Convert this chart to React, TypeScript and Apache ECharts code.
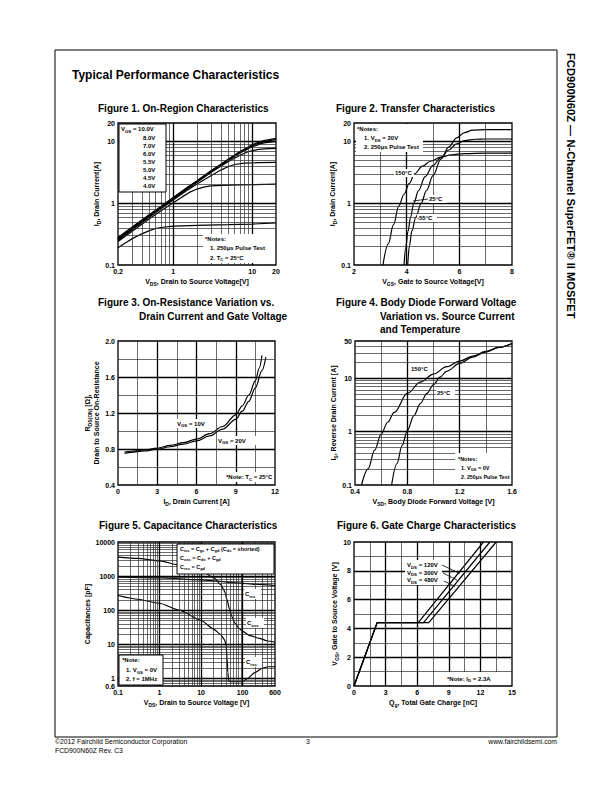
import React, { useEffect, useRef } from 'react';
import * as echarts from 'echarts';

const FONT = '"Liberation Sans", Arial, Helvetica, sans-serif';

// ---------- Figure 1: On-Region Characteristics (ID vs VDS) ----------
const f1Vgs10 = [[0.2,0.28],[0.3,0.41],[0.5,0.66],[0.7,0.89],[1,1.24],[1.5,1.8],[2,2.32],[3,3.35],[4,4.3],[5,5.2],[7,6.9],[10,8.9],[14,10.4],[20,11.3]];
const f1Vgs8 = [[0.2,0.272],[0.3,0.4],[0.5,0.645],[0.7,0.875],[1,1.22],[1.5,1.77],[2,2.28],[3,3.3],[4,4.22],[5,5.1],[7,6.75],[10,8.6],[14,10.0],[20,10.9]];
const f1Vgs7 = [[0.2,0.265],[0.3,0.39],[0.5,0.635],[0.7,0.865],[1,1.2],[1.5,1.74],[2,2.24],[3,3.24],[4,4.14],[5,5.0],[7,6.55],[10,8.3],[14,9.5],[20,10.1]];
const f1Vgs6 = [[0.2,0.26],[0.3,0.385],[0.5,0.625],[0.7,0.85],[1,1.18],[1.5,1.71],[2,2.2],[3,3.15],[4,4.0],[5,4.75],[7,6.0],[9,6.9],[12,7.5],[16,7.7],[20,7.8]];
const f1Vgs55 = [[0.2,0.25],[0.3,0.37],[0.5,0.6],[0.7,0.815],[1,1.13],[1.5,1.62],[2,2.05],[3,2.8],[4,3.45],[5,3.95],[6,4.25],[8,4.48],[12,4.55],[20,4.6]];
const f1Vgs5 = [[0.2,0.24],[0.3,0.35],[0.5,0.56],[0.7,0.76],[1,1.02],[1.3,1.27],[1.6,1.5],[2,1.7],[2.5,1.84],[3,1.91],[5,1.97],[10,2.0],[20,2.05]];
const f1Vgs45 = [[0.2,0.19],[0.25,0.23],[0.3,0.265],[0.4,0.32],[0.5,0.36],[0.6,0.39],[0.7,0.405],[1,0.425],[2,0.44],[5,0.45],[10,0.46],[20,0.48]];
const f1Legend = ['8.0V','7.0V','6.0V','5.5V','5.0V','4.5V','4.0V'];

// ---------- Figure 2: Transfer Characteristics (ID vs VGS) ----------
const f2T150 = [[3.1,0.1],[3.3,0.22],[3.5,0.45],[3.7,0.9],[3.9,1.4],[4.1,2.1],[4.3,3.0],[4.6,4.0],[4.9,4.8],[5.3,5.6],[5.7,6.1],[6.2,6.4],[7,6.5],[8,6.5]];
const f2T25 = [[3.9,0.1],[3.97,0.2],[4.05,0.35],[4.15,0.6],[4.27,1.0],[4.45,1.6],[4.7,2.7],[5.0,4.1],[5.3,5.5],[5.6,7.3],[5.9,9.2],[6.2,10.4],[6.6,10.9],[7,11],[8,11]];
const f2Tm55 = [[4.04,0.1],[4.1,0.2],[4.2,0.36],[4.35,0.6],[4.55,1.0],[4.75,1.6],[5.0,2.8],[5.3,5.2],[5.6,8.2],[5.9,11.5],[6.2,14],[6.5,15.3],[7,15.6],[8,15.6]];

// ---------- Figure 3: On-Resistance vs Drain Current ----------
const f3Vgs10 = [[0.5,0.765],[1,0.775],[2,0.79],[3,0.81],[4,0.84],[5,0.87],[6,0.91],[7,0.97],[8,1.05],[9,1.18],[9.5,1.28],[10,1.4],[10.5,1.56],[10.8,1.7],[11.0,1.84]];
const f3Vgs20 = [[0.5,0.75],[1,0.762],[2,0.778],[3,0.798],[4,0.825],[5,0.855],[6,0.89],[7,0.945],[8,1.02],[9,1.13],[9.5,1.22],[10,1.33],[10.5,1.48],[11,1.67],[11.3,1.82]];

// ---------- Figure 4: Body Diode Forward Voltage ----------
const f4T150 = [[0.45,0.1],[0.5,0.2],[0.55,0.45],[0.6,0.9],[0.65,1.5],[0.7,2.3],[0.8,5.2],[0.9,8.5],[1.0,12],[1.1,16.5],[1.2,21],[1.3,26],[1.4,32],[1.5,38],[1.6,45]];
const f4T25 = [[0.68,0.1],[0.72,0.25],[0.76,0.55],[0.8,1.05],[0.85,2.0],[0.9,3.4],[0.95,5.2],[1.0,7.6],[1.05,10.5],[1.1,13.5],[1.2,19],[1.3,25],[1.4,31],[1.5,38],[1.6,45]];

// ---------- Figure 5: Capacitance Characteristics ----------
const f5Ciss = [[0.1,950],[1,880],[10,780],[30,700],[50,650],[100,610],[300,560],[600,530]];
const f5Coss = [[0.1,3600],[0.3,3300],[1,2800],[3,2100],[10,1450],[20,900],[30,560],[35,400],[38,320],[42,200],[48,110],[55,65],[65,42],[80,30],[100,24],[150,18],[250,15],[400,12.5],[600,11.5]];
const f5Crss = [[0.1,270],[0.3,210],[1,160],[3,100],[10,50],[20,28],[30,19],[36,14],[40,10],[42,4],[44,1.5],[46,0.85],[50,0.8],[70,0.8],[100,0.8],[130,1.0],[200,1.5],[300,2.0],[400,2.2],[600,2.2]];

// ---------- Figure 6: Gate Charge Characteristics ----------
const f6Vds120 = [[0,0],[2.2,4.4],[6.1,4.4],[12.3,10]];
const f6Vds300 = [[0,0],[2.2,4.4],[6.6,4.4],[12.9,10]];
const f6Vds480 = [[0,0],[2.2,4.4],[7.1,4.4],[13.5,10]];

// ---------- grid-line value helpers ----------
function logLines(lo: number, hi: number) {
  const minor: number[] = [];
  const major: number[] = [];
  for (let e = -3; e <= 5; e++) {
    for (let m = 1; m <= 9; m++) {
      const v = +(m * Math.pow(10, e)).toPrecision(6);
      if (v <= lo * 1.0001 || v >= hi * 0.9999) continue;
      (m === 1 ? major : minor).push(v);
    }
  }
  return { minor, major };
}
function linLines(lo: number, hi: number, step: number, majorEvery: number) {
  const minor: number[] = [];
  const major: number[] = [];
  const n = Math.round((hi - lo) / step);
  for (let i = 1; i < n; i++) {
    const v = +(lo + i * step).toFixed(6);
    (i % majorEvery === 0 ? major : minor).push(v);
  }
  return { minor, major };
}

const THIN = { color: '#2b2b2b', width: 0.7, type: 'solid' };
const THICK = { color: '#000', width: 1.3, type: 'solid' };

function gridMarks(xl: { minor: number[]; major: number[] }, yl: { minor: number[]; major: number[] }) {
  return {
    silent: true,
    symbol: ['none', 'none'],
    label: { show: false },
    data: [
      ...xl.minor.map((v) => ({ xAxis: v, lineStyle: THIN })),
      ...yl.minor.map((v) => ({ yAxis: v, lineStyle: THIN })),
      ...xl.major.map((v) => ({ xAxis: v, lineStyle: THICK })),
      ...yl.major.map((v) => ({ yAxis: v, lineStyle: THICK })),
    ],
  };
}

const RICH7 = {
  b: { fontSize: 7, fontWeight: 'bold', fontFamily: FONT, color: '#000', fill: '#000', lineHeight: 9 },
  s: { fontSize: 5, fontWeight: 'bold', fontFamily: FONT, color: '#000', fill: '#000', lineHeight: 9, verticalAlign: 'bottom' },
};
function richFor(size: number) {
  return {
    b: { fontSize: size, fontWeight: 'bold', fontFamily: FONT, color: '#000', fill: '#000', lineHeight: size + 2 },
    s: { fontSize: size * 0.72, fontWeight: 'bold', fontFamily: FONT, color: '#000', fill: '#000', lineHeight: size + 2, verticalAlign: 'bottom' },
  };
}

function T(x: number, y: number, text: string, size = 6.5, extra: any = {}) {
  return {
    type: 'text', x, y, z: 102, silent: true,
    style: {
      text, fill: '#000', font: `bold ${size}px ${FONT}`, rich: richFor(size),
      align: 'left', verticalAlign: 'middle', textAlign: 'left', textVerticalAlign: 'middle', ...extra,
    },
  };
}
function P(x: number, y: number, text: string, size: number, align = 'left') {
  return {
    type: 'text', x, y, z: 102, silent: true,
    style: { text, fill: '#000', font: `${size}px ${FONT}`, align, verticalAlign: 'middle', textAlign: align, textVerticalAlign: 'middle' },
  };
}
function R(x: number, y: number, w: number, h: number, border = false) {
  return {
    type: 'rect', z: 100, silent: true,
    shape: { x, y, width: w, height: h },
    style: { fill: '#fff', stroke: border ? '#000' : null, lineWidth: border ? 1 : 0 },
  };
}
function L(x1: number, y1: number, x2: number, y2: number, w = 0.8) {
  return { type: 'line', z: 101, silent: true, shape: { x1, y1, x2, y2 }, style: { stroke: '#000', lineWidth: w } };
}

const GRIDS = [
  { left: 118, top: 123, width: 158, height: 142 },
  { left: 354, top: 123, width: 158, height: 142 },
  { left: 118, top: 341, width: 157, height: 144 },
  { left: 355, top: 341, width: 157, height: 144 },
  { left: 118, top: 542, width: 157, height: 144 },
  { left: 354, top: 542, width: 158, height: 144 },
];

const logFmt = (v: number) => String(+(+v).toPrecision(4));

function axisBase(gridIndex: number, name: string, nameGap: number) {
  return {
    gridIndex,
    name,
    nameLocation: 'middle',
    nameGap,
    nameTextStyle: { rich: RICH7, fontSize: 7, fontWeight: 'bold', fontFamily: FONT, color: '#000' },
    axisLine: { show: false },
    axisTick: { show: false },
    splitLine: { show: false },
    axisLabel: { color: '#000', fontSize: 7, fontWeight: 'bold', fontFamily: FONT, margin: 3, showMinLabel: true, showMaxLabel: true },
  };
}
function logAxis(gi: number, min: number, max: number, name: string, gap: number) {
  const a: any = axisBase(gi, name, gap);
  a.type = 'log'; a.logBase = 10; a.min = min; a.max = max;
  a.axisLabel = { ...a.axisLabel, formatter: logFmt };
  return a;
}
function valAxis(gi: number, min: number, max: number, interval: number, name: string, gap: number, dec = 0) {
  const a: any = axisBase(gi, name, gap);
  a.type = 'value'; a.min = min; a.max = max; a.interval = interval;
  a.axisLabel = { ...a.axisLabel, formatter: (v: number) => (+v).toFixed(dec) };
  return a;
}

function curve(i: number, data: number[][], smooth: boolean | number = 0.35, width = 1.2) {
  return {
    type: 'line', xAxisIndex: i, yAxisIndex: i, data, showSymbol: false, symbol: 'none',
    smooth, smoothMonotone: 'x', silent: true, z: 3,
    lineStyle: { color: '#000', width },
  };
}
function gridSeries(i: number, x0: number, y0: number, xl: any, yl: any) {
  return {
    type: 'line', xAxisIndex: i, yAxisIndex: i, data: [[x0, y0]], showSymbol: false, symbol: 'none',
    silent: true, z: 1, lineStyle: { opacity: 0 }, markLine: gridMarks(xl, yl),
  };
}

export default function App() {
  const ref = useRef<HTMLDivElement>(null);
  useEffect(() => {
    if (!ref.current) return;
    const chart = echarts.init(ref.current, null, { renderer: 'svg' });

    const xAxis = [
      logAxis(0, 0.2, 20, '{b|V}{s|DS}{b|, Drain to Source Voltage[V]}', 12),
      valAxis(1, 2, 8, 2, '{b|V}{s|GS}{b|, Gate to Source Voltage[V]}', 12),
      valAxis(2, 0, 12, 3, '{b|I}{s|D}{b|, Drain Current [A]}', 12),
      valAxis(3, 0.4, 1.6, 0.4, '{b|V}{s|SD}{b|, Body Diode Forward Voltage [V]}', 12, 1),
      logAxis(4, 0.1, 600, '{b|V}{s|DS}{b|, Drain to Source Voltage [V]}', 12),
      valAxis(5, 0, 15, 3, '{b|Q}{s|g}{b|, Total Gate Charge [nC]}', 12),
    ];
    const yAxis = [
      logAxis(0, 0.1, 20, '{b|I}{s|D}{b|, Drain Current[A]}', 15),
      logAxis(1, 0.1, 20, '{b|I}{s|D}{b|, Drain Current[A]}', 15),
      valAxis(2, 0.4, 2.0, 0.4, '{b|R}{s|DS(ON)}{b| [Ω],}\n{b|Drain to Source On-Resistance}', 17, 1),
      logAxis(3, 0.1, 50, '{b|I}{s|S}{b|, Reverse Drain Current [A]}', 16),
      logAxis(4, 0.6, 10000, '{b|Capacitances [pF]}', 26),
      valAxis(5, 0, 10, 2, '{b|V}{s|GS}{b|, Gate to Source Voltage [V]}', 13),
    ];

    const series = [
      gridSeries(0, 0.2, 0.1, logLines(0.2, 20), logLines(0.1, 20)),
      curve(0, f1Vgs10, false, 1.3), curve(0, f1Vgs8, false, 1.3), curve(0, f1Vgs7, false, 1.3), curve(0, f1Vgs6, false, 1.3),
      curve(0, f1Vgs55, false, 1.2), curve(0, f1Vgs5, false, 1.2), curve(0, f1Vgs45, false, 1.2),

      gridSeries(1, 2, 0.1, linLines(2, 8, 1, 2), logLines(0.1, 20)),
      curve(1, f2T150), curve(1, f2T25), curve(1, f2Tm55),

      gridSeries(2, 0, 0.4, linLines(0, 12, 1.5, 2), linLines(0.4, 2.0, 0.2, 2)),
      curve(2, f3Vgs10), curve(2, f3Vgs20),

      gridSeries(3, 0.4, 0.1, linLines(0.4, 1.6, 0.2, 2), logLines(0.1, 50)),
      curve(3, f4T150), curve(3, f4T25),

      gridSeries(4, 0.1, 0.6, logLines(0.1, 600), logLines(0.6, 10000)),
      curve(4, f5Ciss), curve(4, f5Coss, 0.25), curve(4, f5Crss, 0.2),

      gridSeries(5, 0, 0, linLines(0, 15, 1.5, 2), linLines(0, 10, 1, 2)),
      curve(5, f6Vds120, false), curve(5, f6Vds300, false), curve(5, f6Vds480, false),
    ];

    const graphic: any[] = [
      // page frame
      { type: 'rect', z: 90, silent: true, shape: { x: 55, y: 50, width: 502, height: 687 }, style: { fill: null, stroke: '#000', lineWidth: 1 } },
      T(72, 75, 'Typical Performance Characteristics', 12),
      // side title
      { type: 'text', x: 571, y: 53, rotation: -Math.PI / 2, z: 102, silent: true,
        style: { text: 'FCD900N60Z — N-Channel SuperFET® II MOSFET', fill: '#000', font: `bold 11.2px ${FONT}`, align: 'left', verticalAlign: 'middle', textAlign: 'left', textVerticalAlign: 'middle' } },
      // figure titles
      T(98, 108, 'Figure 1. On-Region Characteristics', 10),
      T(336, 108, 'Figure 2. Transfer Characteristics', 10),
      T(98, 302, 'Figure 3. On-Resistance Variation vs.', 10),
      T(139, 316, 'Drain Current and Gate Voltage', 10),
      T(336, 302, 'Figure 4. Body Diode Forward Voltage', 10),
      T(380, 316, 'Variation vs. Source Current', 10),
      T(380, 329, 'and Temperature', 10),
      T(99, 525, 'Figure 5. Capacitance Characteristics', 10),
      T(337, 525, 'Figure 6. Gate Charge Characteristics', 10),

      // fig1 legend box
      R(119, 124, 47, 68, true),
      T(121, 129, '{b|V}{s|GS}{b| = 10.0V}', 6),
      ...f1Legend.map((s, k) => T(143, 137.7 + k * 8.1, s, 6)),
      // fig1 notes
      R(203, 234, 72, 29),
      T(205, 239, '*Notes:', 6),
      T(210, 248, '1. 250μs Pulse Test', 6),
      T(210, 257.5, '{b|2. T}{s|C}{b| = 25°C}', 6),

      // fig2 notes & labels
      R(356, 124, 67, 28),
      T(357, 129, '*Notes:', 6),
      T(364, 138, '{b|1. V}{s|DS}{b| = 20V}', 6),
      T(364, 147, '2. 250μs Pulse Test', 6),
      R(394, 169, 20, 8),
      T(395, 173, '150°C', 6),
      L(413, 201, 428, 199),
      R(429, 195, 18, 8),
      T(429, 199, '25°C', 6),
      R(417, 214, 20, 8),
      T(417, 218, '-55°C', 6),

      // fig3 labels
      R(176, 419, 40, 9),
      T(177, 423.5, '{b|V}{s|GS}{b| = 10V}', 6),
      R(217, 436, 40, 9),
      T(218, 440.5, '{b|V}{s|GS}{b| = 20V}', 6),
      R(224, 472, 50, 10),
      T(226, 477, '{b|*Note: T}{s|C}{b| = 25°C}', 6),

      // fig4 labels & notes
      R(410, 364, 22, 9),
      T(411, 368.5, '150°C', 6),
      R(436, 388, 19, 9),
      T(437, 392.5, '25°C', 6),
      R(455, 453, 56, 31),
      T(458, 458.5, '*Notes:', 5.5),
      T(461, 467.5, '{b|1. V}{s|GS}{b| = 0V}', 5.5),
      T(461, 477, '2. 250μs Pulse Test', 5.3),

      // fig5 legend and labels
      R(177, 544, 97, 30, true),
      T(180, 549, '{b|C}{s|iss}{b| = C}{s|gs}{b| + C}{s|gd}{b| (C}{s|ds}{b| = shorted)}', 5.5),
      T(180, 558, '{b|C}{s|oss}{b| = C}{s|ds}{b| + C}{s|gd}', 5.5),
      T(180, 567, '{b|C}{s|rss}{b| = C}{s|gd}', 5.5),
      R(119, 655, 44, 30, true),
      T(122, 660, '*Note:', 6),
      T(126, 670, '{b|1. V}{s|GS}{b| = 0V}', 6),
      T(126, 679, '2. f = 1MHz', 6),
      R(244, 589, 17, 10),
      T(245, 594, '{b|C}{s|iss}', 6),
      R(246, 618, 18, 10),
      T(247, 623, '{b|C}{s|oss}', 6),
      R(245, 657, 17, 10),
      T(246, 662, '{b|C}{s|rss}', 6),

      // fig6 labels
      R(405, 560, 37, 25),
      T(407, 565, '{b|V}{s|DS}{b| = 120V}', 6),
      T(407, 572.5, '{b|V}{s|DS}{b| = 300V}', 6),
      T(407, 580, '{b|V}{s|DS}{b| = 480V}', 6),
      L(442, 565, 460, 573.5),
      L(443, 573, 457, 580),
      L(444, 581, 455, 586.5),
      R(445, 672, 66, 13),
      T(447, 678.5, '{b|*Note: I}{s|D}{b| = 2.3A}', 6),

      // footer
      P(55, 741.5, '©2012 Fairchild Semiconductor Corporation', 6.8),
      P(55, 750.5, 'FCD900N60Z Rev. C3', 6.8),
      P(308, 741.5, '3', 6.8, 'center'),
      P(557, 741.5, 'www.fairchildsemi.com', 6.8, 'right'),
    ];

    chart.setOption({
      animation: false,
      backgroundColor: '#fff',
      grid: GRIDS.map((g) => ({ ...g, show: true, borderColor: '#000', borderWidth: 1.3, backgroundColor: 'transparent', containLabel: false })),
      xAxis,
      yAxis,
      series,
      graphic,
    } as any);

    return () => chart.dispose();
  }, []);

  return <div ref={ref} style={{ position: 'absolute', left: 0, top: 0, width: 612, height: 792 }} />;
}
